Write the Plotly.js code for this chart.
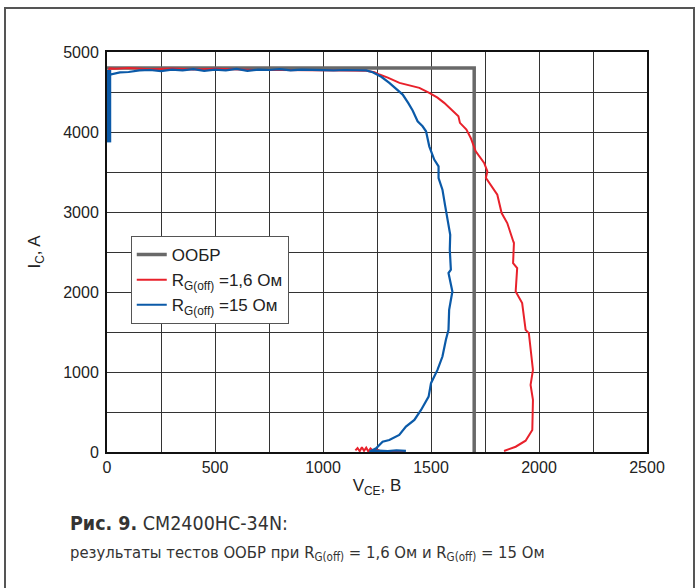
<!DOCTYPE html>
<html>
<head>
<meta charset="utf-8">
<script src="https://cdn.plot.ly/plotly-3.0.1.min.js"></script>
<style>
html,body{margin:0;padding:0;background:#fff;}
#frame{position:absolute;left:4px;top:7px;width:691px;height:640px;border:2px solid #555;box-sizing:border-box;}
#chart{position:absolute;left:0;top:0;width:699px;height:588px;}
</style>
</head>
<body>
<div id="frame"></div>
<div id="chart"></div>
<script>
// ООБР boundary
const oobrV = [0, 1700, 1700];
const oobrI = [4800, 4800, 0];

// R_G(off) = 1.6 Ohm (red)
const redV = [-15, 4, 8, 5, 10, 6, 12, 40, 100, 200, 300, 400, 500, 600, 700, 800, 900, 1000, 1100, 1200, 1238, 1261, 1300, 1354, 1400, 1446, 1492, 1530, 1561, 1592, 1627, 1634, 1664, 1684, 1707, 1746, 1761, 1754, 1780, 1807, 1827, 1853, 1881, 1884, 1880, 1899, 1892, 1922, 1938, 1953, 1972, 1961, 1972, 1969, 1969, 1938, 1892, 1838,
  null, 1150, 1160, 1170, 1180, 1190, 1200, 1210, 1220, 1235, 1250, 1270, 1300, 1340, 1380];
const redI = [4050, 4050, 4300, 4500, 4650, 4750, 4795, 4790, 4800, 4785, 4795, 4780, 4790, 4780, 4775, 4775, 4775, 4770, 4770, 4765, 4747, 4718, 4680, 4614, 4585, 4552, 4489, 4430, 4364, 4280, 4196, 4114, 4030, 3926, 3758, 3613, 3508, 3426, 3320, 3216, 2987, 2862, 2632, 2612, 2362, 2299, 2006, 1861, 1527, 1486, 1026, 838, 651, 401, 275, 141, 66, 13,
  null, 20, 50, 10, 60, 15, 55, 5, 45, 10, 30, 5, 12, 8, 10];

// R_G(off) = 15 Ohm (blue): thick turn-on stem near V = 0
const blueStemV = [8, 8];
const blueStemI = [3870, 4775];

// R_G(off) = 15 Ohm (blue): turn-off trajectory
const blueV = [8, 14, 20, 40, 60, 100, 150, 200, 250, 300, 350, 400, 450, 500, 550, 600, 650, 700, 750, 800, 850, 900, 950, 1000, 1050, 1100, 1150, 1200, 1230, 1270, 1307, 1340, 1369, 1395, 1415, 1438, 1461, 1477, 1492, 1515, 1535, 1535, 1553, 1566, 1576, 1589, 1587, 1592, 1581, 1599, 1584, 1581, 1569, 1553, 1530, 1500, 1489, 1454, 1423, 1384, 1353, 1307, 1276, 1246, 1215, 1260, 1300, 1340, 1384];
const blueI = [4775, 4730, 4720, 4735, 4745, 4750, 4770, 4775, 4760, 4780, 4770, 4785, 4765, 4780, 4770, 4790, 4765, 4780, 4775, 4785, 4770, 4780, 4775, 4775, 4770, 4775, 4770, 4770, 4747, 4690, 4614, 4540, 4468, 4360, 4268, 4134, 4071, 4009, 3821, 3655, 3571, 3425, 3279, 3070, 2904, 2716, 2528, 2278, 2237, 2006, 1777, 1527, 1402, 1193, 1026, 860, 692, 526, 401, 317, 213, 150, 129, 46, 4, 18, 12, 20, 14];

const names = ['ООБР', 'R<sub>G(off)</sub> =1,6 Ом', 'R<sub>G(off)</sub> =15 Ом'];
const xTicks = [0, 500, 1000, 1500, 2000, 2500];
const yTicks = [0, 1000, 2000, 3000, 4000, 5000];

const FONT = 'DejaVu Sans Condensed, Liberation Sans, Arial, sans-serif';
const FONT2 = 'Liberation Sans, Arial, sans-serif';
const BLUE = '#0b5aa8';

const traces = [
  {x: oobrV, y: oobrI, name: names[0], mode: 'lines', line: {color: '#696969', width: 3.5}},
  {x: redV, y: redI, name: names[1], mode: 'lines', line: {color: '#e8212b', width: 2}, connectgaps: false},
  {x: blueStemV, y: blueStemI, name: names[2], mode: 'lines', line: {color: BLUE, width: 5}, showlegend: false, legendgroup: 'b'},
  {x: blueV, y: blueI, name: names[2], mode: 'lines', line: {color: BLUE, width: 2.2}, legendgroup: 'b'}
];

const layout = {
  width: 699, height: 588,
  margin: {l: 107, r: 52, t: 52, b: 136},
  paper_bgcolor: 'rgba(0,0,0,0)',
  plot_bgcolor: '#fff',
  showlegend: true,
  legend: {
    x: 0.044, y: 0.54, xanchor: 'left', yanchor: 'top',
    bgcolor: '#fff', bordercolor: '#555', borderwidth: 1,
    font: {family: FONT2, size: 17, color: '#222'},
    tracegroupgap: 0, itemwidth: 30
  },
  xaxis: {
    range: [0, 2500], tickvals: xTicks, ticktext: xTicks.map(String),
    showgrid: true, gridcolor: '#333', gridwidth: 1,
    minor: {dtick: 250, showgrid: true, gridcolor: '#333', gridwidth: 1},
    showline: true, linecolor: '#111', linewidth: 2, mirror: true,
    ticks: '', zeroline: false,
    tickfont: {family: FONT2, size: 16, color: '#222'},
    title: {text: 'V<sub>CE</sub>, B', font: {family: FONT2, size: 17, color: '#222'}, standoff: 4}
  },
  yaxis: {
    range: [0, 5000], tickvals: yTicks, ticktext: yTicks.map(String),
    showgrid: true, gridcolor: '#333', gridwidth: 1,
    minor: {dtick: 500, showgrid: true, gridcolor: '#333', gridwidth: 1},
    showline: true, linecolor: '#111', linewidth: 2, mirror: true,
    ticks: '', zeroline: false, ticklabelstandoff: 3,
    tickfont: {family: FONT2, size: 16, color: '#222'},
    title: {text: 'I<sub>C</sub>, A', font: {family: FONT2, size: 17, color: '#222'}, standoff: 18}
  },
  annotations: [
    {xref: 'paper', yref: 'paper', x: -0.072, y: -0.1775, xanchor: 'left', yanchor: 'middle', showarrow: false,
     text: '<b>Рис. 9.</b> CM2400HC-34N:', font: {family: FONT, size: 19.5, color: '#333'}},
    {xref: 'paper', yref: 'paper', x: -0.072, y: -0.2525, xanchor: 'left', yanchor: 'middle', showarrow: false,
     text: 'результаты тестов ООБР при R<sub>G(off)</sub> = 1,6 Ом и R<sub>G(off)</sub> = 15 Ом', font: {family: FONT, size: 16.5, color: '#333'}}
  ]
};

Plotly.newPlot('chart', traces, layout, {displayModeBar: false, staticPlot: true});
</script>
</body>
</html>
